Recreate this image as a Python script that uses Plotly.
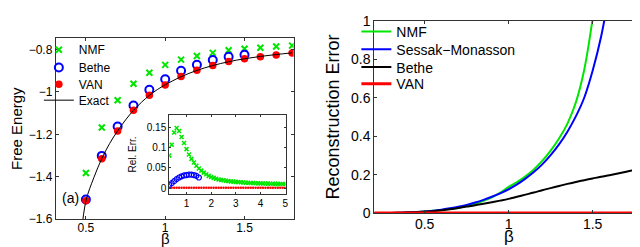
import plotly.graph_objects as go

# ---------------- Left panel: free energy ----------------
beta_pts = [0.5, 0.6, 0.7, 0.8, 0.9, 1.0, 1.1, 1.2, 1.3, 1.4, 1.5, 1.6, 1.7, 1.8]
fe_nmf = [-1.383, -1.168, -1.039, -0.961, -0.909, -0.872, -0.847, -0.830,
          -0.815, -0.803, -0.796, -0.791, -0.785, -0.781]
beta_bethe = [0.5, 0.6, 0.7, 0.8, 0.9, 1.0, 1.1, 1.2, 1.3, 1.4, 1.5]
fe_bethe = [-1.508, -1.302, -1.163, -1.064, -0.990, -0.940, -0.900, -0.871,
            -0.849, -0.834, -0.824]
fe_van = [-1.514, -1.315, -1.184, -1.086, -1.015, -0.967, -0.927, -0.897,
          -0.875, -0.856, -0.843, -0.834, -0.825, -0.816]
beta_exact = [0.47, 0.50, 0.55, 0.60, 0.65, 0.70, 0.75, 0.80, 0.85, 0.90, 0.95,
              1.00, 1.10, 1.20, 1.30, 1.40, 1.50, 1.60, 1.70, 1.80]
fe_exact = [-1.68, -1.515, -1.405, -1.315, -1.243, -1.184, -1.132, -1.087,
            -1.049, -1.016, -0.989, -0.966, -0.928, -0.898, -0.875, -0.857,
            -0.843, -0.832, -0.823, -0.815]

# ---------------- Inset: relative error ----------------
beta_inset = [0.3, 0.4, 0.5, 0.6, 0.7, 0.8, 0.9, 1.0, 1.1, 1.2, 1.3, 1.4, 1.5,
              1.6, 1.7, 1.8, 1.9, 2.0, 2.1, 2.2, 2.3, 2.4, 2.5, 2.6, 2.7, 2.8,
              2.9, 3.0, 3.1, 3.2, 3.3, 3.4, 3.5, 3.6, 3.7, 3.8, 3.9, 4.0, 4.1,
              4.2, 4.3, 4.4, 4.5, 4.6, 4.7, 4.8, 4.9, 5.0]
relerr_nmf = [0.080, 0.107, 0.137, 0.148, 0.141, 0.126, 0.111, 0.096, 0.083,
              0.072, 0.063, 0.055, 0.048, 0.043, 0.038, 0.034, 0.030, 0.027,
              0.025, 0.023, 0.021, 0.020, 0.019, 0.018, 0.017, 0.016, 0.0158,
              0.0152, 0.0146, 0.0141, 0.0136, 0.0132, 0.0128, 0.0125, 0.0122,
              0.0119, 0.0116, 0.0114, 0.0112, 0.0110, 0.0108, 0.0106, 0.0105,
              0.0103, 0.0102, 0.0101, 0.0100, 0.0099]
beta_inset_bethe = [0.3, 0.4, 0.5, 0.6, 0.7, 0.8, 0.9, 1.0, 1.1, 1.2, 1.3, 1.4, 1.5]
relerr_bethe = [0.008, 0.012, 0.017, 0.022, 0.026, 0.029, 0.031, 0.032, 0.033,
                0.033, 0.032, 0.030, 0.026]
relerr_van = [0.0005] * 48

# ---------------- Right panel: reconstruction error ----------------
beta_rec = [0.20, 0.25, 0.30, 0.35, 0.40, 0.45, 0.50, 0.55, 0.60, 0.65, 0.70,
            0.75, 0.80, 0.85, 0.90, 0.95, 1.00, 1.05, 1.10, 1.15, 1.20, 1.25,
            1.30, 1.35, 1.40, 1.45, 1.50, 1.55, 1.60, 1.65, 1.70, 1.75, 1.80]
rec_nmf = [0.000, 0.001, 0.002, 0.003, 0.005, 0.007, 0.010, 0.013, 0.017, 0.022,
           0.029, 0.038, 0.050, 0.065, 0.083, 0.108, 0.137, 0.162, 0.192, 0.228,
           0.272, 0.325, 0.388, 0.466, 0.575, 0.745, 1.010, 1.350, None, None,
           None, None, None]
rec_sm = [0.000, 0.001, 0.002, 0.003, 0.005, 0.007, 0.010, 0.014, 0.019, 0.026,
          0.034, 0.044, 0.056, 0.070, 0.086, 0.104, 0.125, 0.150, 0.180, 0.214,
          0.254, 0.302, 0.358, 0.424, 0.503, 0.600, 0.740, 0.915, 1.150, None,
          None, None, None]
rec_bethe = [0.001, 0.001, 0.002, 0.003, 0.004, 0.006, 0.008, 0.011, 0.016,
             0.021, 0.028, 0.035, 0.042, 0.050, 0.058, 0.066, 0.075, 0.086,
             0.097, 0.108, 0.120, 0.131, 0.142, 0.153, 0.163, 0.172, 0.181,
             0.190, 0.198, 0.207, 0.216, 0.225, 0.234]
rec_van = [0.002] * 33

GREEN = "rgb(0,230,0)"
BLUE = "rgb(0,0,255)"
RED = "rgb(255,0,0)"
FONT = "Liberation Sans, Arial, sans-serif"

fig = go.Figure()

# left main
fig.add_trace(go.Scatter(x=beta_pts, y=fe_nmf, mode="markers", name="NMF",
                         marker=dict(symbol="x-thin", size=6, color=GREEN,
                                     line=dict(color=GREEN, width=2)),
                         xaxis="x", yaxis="y", legend="legend"))
fig.add_trace(go.Scatter(x=beta_bethe, y=fe_bethe, mode="markers", name="Bethe",
                         marker=dict(symbol="circle-open", size=8, color=BLUE,
                                     line=dict(color=BLUE, width=2)),
                         xaxis="x", yaxis="y", legend="legend2"))
fig.add_trace(go.Scatter(x=beta_pts, y=fe_van, mode="markers", name="VAN",
                         marker=dict(symbol="circle", size=7.5, color=RED),
                         xaxis="x", yaxis="y", legend="legend3"))
fig.add_trace(go.Scatter(x=beta_exact, y=fe_exact, mode="lines", name="Exact",
                         line=dict(color="black", width=1, shape="spline"),
                         xaxis="x", yaxis="y", legend="legend4"))

# inset
fig.add_trace(go.Scatter(x=beta_inset, y=relerr_van, mode="markers", showlegend=False,
                         marker=dict(symbol="circle", size=2.5, color=RED),
                         xaxis="x3", yaxis="y3"))
fig.add_trace(go.Scatter(x=beta_inset, y=relerr_nmf, mode="markers", showlegend=False,
                         marker=dict(symbol="x-thin", size=4, color=GREEN,
                                     line=dict(color=GREEN, width=1.5)),
                         xaxis="x3", yaxis="y3"))
fig.add_trace(go.Scatter(x=beta_inset_bethe, y=relerr_bethe, mode="markers", showlegend=False,
                         marker=dict(symbol="circle-open", size=5, color=BLUE,
                                     line=dict(color=BLUE, width=1.2)),
                         xaxis="x3", yaxis="y3"))

# right
fig.add_trace(go.Scatter(x=beta_rec, y=rec_nmf, mode="lines", name="NMF",
                         line=dict(color=GREEN, width=2, shape="spline"),
                         xaxis="x2", yaxis="y2", legend="legend5"))
fig.add_trace(go.Scatter(x=beta_rec, y=rec_sm, mode="lines", name="Sessak\u2212Monasson",
                         line=dict(color=BLUE, width=2, shape="spline"),
                         xaxis="x2", yaxis="y2", legend="legend6"))
fig.add_trace(go.Scatter(x=beta_rec, y=rec_bethe, mode="lines", name="Bethe",
                         line=dict(color="black", width=2, shape="spline"),
                         xaxis="x2", yaxis="y2", legend="legend7"))
fig.add_trace(go.Scatter(x=beta_rec, y=rec_van, mode="lines", name="VAN",
                         line=dict(color=RED, width=3),
                         xaxis="x2", yaxis="y2", legend="legend8"))

AX = dict(showline=True, linecolor="#333", linewidth=1, mirror="allticks",
          ticks="inside", ticklen=3, tickcolor="#333", showgrid=False,
          zeroline=False, ticklabeloverflow="allow")


def leg(xpx, ypx, size):
    return dict(x=xpx/640, y=1-ypx/247, xanchor="left", yanchor="middle",
                bgcolor="rgba(0,0,0,0)", borderwidth=0, font=dict(size=size),
                itemwidth=30)


fig.update_layout(
    width=640, height=247,
    margin=dict(l=0, r=0, t=0, b=0),
    paper_bgcolor="white", plot_bgcolor="white",
    font=dict(family=FONT, color="black"),
    xaxis=dict(AX, domain=[48/640, 287/640], range=[0.31, 1.81],
               tickvals=[0.5, 1, 1.5], ticktext=["0.5", "1", "1.5"],
               tickfont=dict(size=12), anchor="y", ticklabelstandoff=-2),
    yaxis=dict(AX, domain=[1-217/247, 1-24/247], range=[-1.6, -0.747],
               tickvals=[-1.6, -1.4, -1.2, -1.0, -0.8],
               ticktext=["\u22121.6", "\u22121.4", "\u22121.2", "\u22121", "\u22120.8"],
               tickfont=dict(size=12), anchor="x",
               title=dict(text="Free Energy", font=dict(size=15), standoff=6)),
    xaxis2=dict(AX, domain=[368/640, 638/640], range=[0.2, 1.8],
                tickvals=[0.5, 1, 1.5], ticktext=["0.5", "1", "1.5"],
                tickfont=dict(size=14), anchor="y2", ticklabelstandoff=-2),
    yaxis2=dict(AX, domain=[1-211/247, 1-5/247], range=[0, 1],
                tickvals=[0, 0.2, 0.4, 0.6, 0.8, 1],
                ticktext=["0", "0.2", "0.4", "0.6", "0.8", "1"],
                tickfont=dict(size=14), anchor="x2",
                title=dict(text="Reconstruction Error", font=dict(size=18), standoff=6)),
    xaxis3=dict(AX, domain=[162/640, 279/640], range=[0.3, 5.02],
                tickvals=[1, 2, 3, 4, 5], tickfont=dict(size=10), anchor="y3",
                ticklen=2),
    yaxis3=dict(AX, domain=[1-190/247, 1-106/247], range=[-0.014, 0.18],
                tickvals=[0, 0.05, 0.1, 0.15], ticktext=["0", "0.05", "0.1", "0.15"],
                tickfont=dict(size=10), anchor="x3", ticklen=2,
                title=dict(text="Rel. Err.", font=dict(size=10), standoff=8)),
    legend=leg(31, 36, 12),
    legend2=leg(31, 55, 12),
    legend3=leg(31, 73, 12),
    legend4=leg(31, 90, 12),
    legend5=leg(350, 17, 14),
    legend6=leg(350, 36, 14),
    legend7=leg(350, 55, 14),
    legend8=leg(350, 73, 14),
    annotations=[
        dict(text="(a)", x=0.5, y=-1.5, xref="x", yref="y",
             xanchor="right", showarrow=False, xshift=-5,
             font=dict(size=14, family=FONT)),
        dict(text="β", x=1.0, y=1-238/247, xref="x", yref="paper",
             xanchor="center", yanchor="middle", showarrow=False, borderpad=0,
             font=dict(size=15, family=FONT)),
        dict(text="β", x=1.0, y=1-235.5/247, xref="x2", yref="paper",
             xanchor="center", yanchor="middle", showarrow=False, borderpad=0,
             font=dict(size=17, family=FONT)),
    ],
)

fig.write_html("out.html")
